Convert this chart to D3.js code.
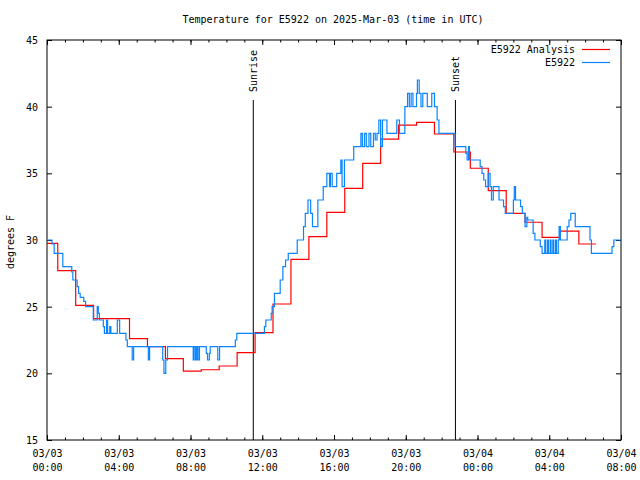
<!DOCTYPE html>
<html><head><meta charset="utf-8">
<script src="https://cdn.jsdelivr.net/npm/d3@7"></script>
<style>
body{margin:0;background:#fff}
svg text{font-family:"DejaVu Sans Mono","Liberation Mono",monospace;font-size:10px;fill:#000}
</style></head><body>
<svg id="c" width="640" height="480"></svg>
<script>
// ---- data (hours since 2025-03-03 00:00 UTC) ----
const titleText = "Temperature for E5922 on 2025-Mar-03 (time in UTC)";
const yLabelText = "degrees F";
const seriesNames = ["E5922 Analysis", "E5922"];
const yTicks = [15, 20, 25, 30, 35, 40, 45];
const sunriseHour = 11.5;
const sunsetHour = 22.77;

const analysisHours = [0, 0.6, 1.6, 2.6, 3.6, 4.6, 5.6, 6.6, 7.6, 8.6, 9.6, 10.6, 11.6, 12.6, 13.6, 14.6, 15.6, 16.6, 17.6, 18.6, 19.6, 20.6, 21.6, 22.68, 23.6, 24.6, 25.6, 26.65, 27.6, 28.6, 29.65, 30.6];
const analysisTemps = [29.75, 27.7, 25.1, 24.1, 24.1, 22.6, 22.0, 21.1, 20.17, 20.27, 20.55, 21.55, 23.05, 25.2, 28.55, 30.25, 32.07, 33.87, 35.75, 37.57, 38.62, 38.82, 37.95, 36.6, 35.38, 33.7, 32.0, 31.33, 30.2, 30.67, 29.7, 29.7];

const obsHours = [0, 0.28, 0.4, 0.88, 1.38, 1.44, 1.68, 1.76, 1.85, 2.05, 2.15, 2.58, 2.8, 2.86, 2.92, 3.14, 3.2, 3.32, 3.38, 3.5, 3.56, 3.92, 4.05, 4.4, 4.48, 4.75, 4.83, 5.65, 5.72, 6.45, 6.52, 6.62, 6.72,
  8.15, 8.2, 8.28, 8.35, 8.42, 8.5, 8.88, 8.95, 9.05, 9.1, 9.52, 9.62, 10.5, 10.58, 12.12, 12.2, 12.5, 12.55, 12.68, 13.0, 13.15, 13.3, 13.45, 13.95, 14.3, 14.4, 14.55, 14.7, 14.8, 15.1, 15.4,
  15.6, 15.75, 15.8, 15.9, 16.15, 16.38, 16.45, 16.58, 17.1, 17.5, 17.58, 17.7, 17.8, 17.95, 18.05, 18.2, 18.3, 18.4, 18.5, 18.6, 18.7, 18.95, 19.5, 19.65, 19.95, 20.1, 20.2, 20.3, 20.4, 20.6,
  20.65, 20.75, 20.85, 20.95, 21.2, 21.45, 21.6, 21.75, 21.85, 22.75, 23.35, 23.42, 23.5, 23.55, 24.15, 24.25, 24.35, 24.45, 24.6, 24.7, 24.78, 24.88, 25.2, 25.45, 25.55, 26.0, 26.05, 26.12,
  26.4, 26.5, 26.65, 26.75, 26.8, 27.1, 27.2, 27.5, 27.6, 27.75, 27.8, 27.9, 27.95, 28.05, 28.1, 28.2, 28.25, 28.35, 28.4, 28.5, 28.55, 28.62, 29.0, 29.1, 29.2, 29.45, 30.27, 30.35, 31.5, 31.6, 32.0];
const obsTemps = [30, 29.7, 29, 28, 27.6, 27, 26.5, 26, 25.7, 25.4, 25, 24, 25, 24.5, 24, 23.5, 23, 24, 23, 23.5, 23, 24, 23, 22.5, 22, 21, 22, 21, 22, 21, 20, 21, 22,
  21, 22, 21, 22, 21, 22, 21.5, 21, 21.5, 22, 21, 22, 22.5, 23, 23.5, 24, 24.5, 25, 26, 27, 28, 28.5, 29, 30, 31, 32, 33, 32, 31, 33, 34,
  35, 34, 35, 34, 35, 36, 34, 36, 37, 38, 37, 38, 37, 38, 37, 38, 37.5, 38, 39, 37, 39, 38, 39, 38, 40, 41, 40, 41, 40, 41,
  42, 41, 40, 41, 40, 41, 40, 39, 38, 37, 36.5, 36, 37, 36, 35.5, 35, 34.5, 34, 35, 34, 33, 34, 33, 32.5, 32, 33, 34, 33,
  32.5, 32, 31, 31.7, 31.5, 30.5, 30, 29.5, 29, 30, 29, 30, 29, 30, 29, 30, 29, 30, 29, 30, 31, 30, 31, 31.5, 32, 31, 30, 29, 29.5, 30, 30];

// ---- drawing ----
const W = 640, H = 480;
const L = 47, R = 621, T = 40, B = 440;
const t0 = Date.UTC(2025, 2, 3);
const toDate = h => new Date(t0 + h * 3600e3);

const svg = d3.select("#c");
const x = d3.scaleUtc().domain([toDate(0), toDate(32)]).range([L, R]);
const y = d3.scaleLinear().domain([15, 45]).range([B, T]);

const RED = "#ff0000", BLUE = "#0a84ff";

// minor ticks (hourly) bottom & top
const minor = d3.utcHour.every(1).range(toDate(0), toDate(32.01));
svg.append("g").attr("transform", `translate(0,${B})`)
  .call(d3.axisBottom(x).tickValues(minor).tickSize(-2.5).tickFormat(""))
  .call(g => g.select(".domain").remove());
svg.append("g").attr("transform", `translate(0,${T})`)
  .call(d3.axisTop(x).tickValues(minor).tickSize(-2.5).tickFormat(""))
  .call(g => g.select(".domain").remove());

const major = d3.utcHour.every(4).range(toDate(0), toDate(32.01));
const fDay = d3.utcFormat("%m/%d"), fTime = d3.utcFormat("%H:%M");
svg.append("g").attr("transform", `translate(0,${B})`)
  .call(d3.axisBottom(x).tickValues(major).tickSize(-5).tickFormat(""))
  .call(g => g.select(".domain").remove())
  .call(g => g.selectAll(".tick").each(function(d) {
    const t = d3.select(this).append("text").attr("text-anchor", "middle");
    t.append("tspan").attr("x", 0).attr("y", 17).text(fDay(d));
    t.append("tspan").attr("x", 0).attr("y", 31).text(fTime(d));
  }));
svg.append("g").attr("transform", `translate(0,${T})`)
  .call(d3.axisTop(x).tickValues(major).tickSize(-5).tickFormat(""))
  .call(g => g.select(".domain").remove());

svg.append("g").attr("transform", `translate(${L},0)`)
  .call(d3.axisLeft(y).tickValues(yTicks).tickSize(-5).tickPadding(9).tickFormat(d3.format("d")))
  .call(g => g.select(".domain").remove())
  .call(g => g.selectAll("text").attr("dy", "0.35em"));
svg.append("g").attr("transform", `translate(${R},0)`)
  .call(d3.axisRight(y).tickValues(yTicks).tickSize(-5).tickFormat(""))
  .call(g => g.select(".domain").remove());

svg.selectAll(".tick line").attr("stroke", "#000");

// frame
svg.append("rect").attr("x", L).attr("y", T).attr("width", R - L).attr("height", B - T)
  .attr("fill", "none").attr("stroke", "#000").attr("stroke-width", 1);

// sunrise / sunset
[[sunriseHour, "Sunrise"], [sunsetHour, "Sunset"]].forEach(([h, lab]) => {
  const xx = x(toDate(h));
  svg.append("line").attr("x1", xx).attr("x2", xx).attr("y1", 100).attr("y2", B)
    .attr("stroke", "#000").attr("stroke-width", 1);
  svg.append("text").attr("transform", `translate(${xx + 4},92) rotate(-90)`)
    .attr("text-anchor", "start").text(lab);
});

// lines
const line = d3.line().x(d => x(toDate(d[0]))).y(d => y(d[1])).curve(d3.curveStepAfter);
const ana = analysisHours.map((h, i) => [h, analysisTemps[i]]);
const obs = obsHours.map((h, i) => [h, obsTemps[i]]);
svg.append("path").datum(ana).attr("d", line).attr("fill", "none").attr("stroke", RED).attr("stroke-width", 1.2);
svg.append("path").datum(obs).attr("d", line).attr("fill", "none").attr("stroke", BLUE).attr("stroke-width", 1.2);

// title & y label
svg.append("text").attr("x", 333).attr("y", 23).attr("text-anchor", "middle").text(titleText);
svg.append("text").attr("transform", "translate(14,242) rotate(-90)").attr("text-anchor", "middle").text(yLabelText);

// legend
const leg = svg.append("g");
[RED, BLUE].forEach((c, i) => {
  const yy = 49.5 + i * 13;
  leg.append("text").attr("x", 575).attr("y", yy).attr("dy", "0.35em").attr("text-anchor", "end").text(seriesNames[i]);
  leg.append("line").attr("x1", 582).attr("x2", 610).attr("y1", yy).attr("y2", yy).attr("stroke", c).attr("stroke-width", 1.2);
});
</script>
</body></html>
